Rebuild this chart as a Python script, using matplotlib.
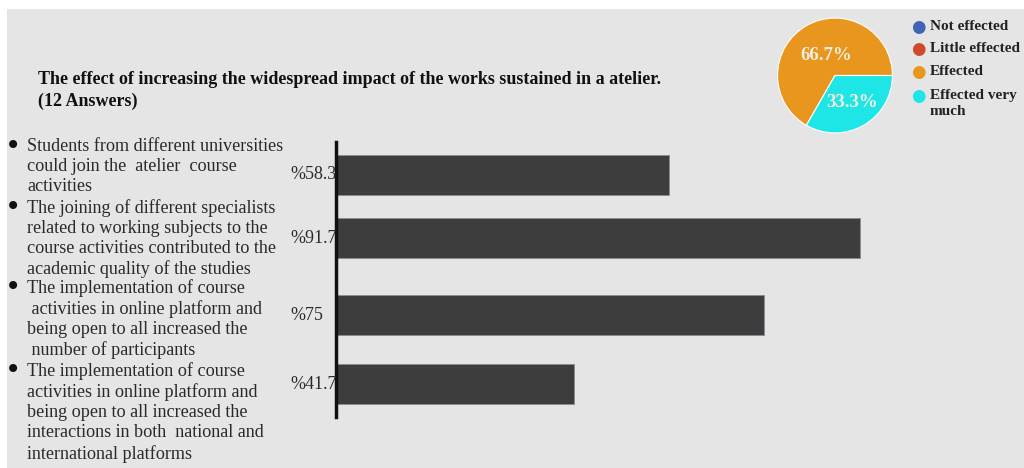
import matplotlib
matplotlib.use("Agg")
import matplotlib.pyplot as plt
from matplotlib.patches import Rectangle

# Survey data
items = [
    "Students from different universities\ncould join the  atelier  course\nactivities",
    "The joining of different specialists\nrelated to working subjects to the\ncourse activities contributed to the\nacademic quality of the studies",
    "The implementation of course\n activities in online platform and\nbeing open to all increased the\n number of participants",
    "The implementation of course\nactivities in online platform and\nbeing open to all increased the\ninteractions in both  national and\ninternational platforms",
]
percent = [58.3, 91.7, 75, 41.7]

pie_labels = ["Not effected", "Little effected", "Effected", "Effected very\nmuch"]
pie_values = [0, 0, 66.7, 33.3]
pie_colors = ["#3f63b5", "#d04a2a", "#e8961e", "#1ee6e6"]

title = "The effect of increasing the widespread impact of the works sustained in a atelier.\n(12 Answers)"

W, H = 1024, 468
bg = "#e5e5e5"
serif = ["Liberation Serif", "DejaVu Serif"]


def fx(px):
    return px / W


def fy(py):
    return 1 - py / H


fig = plt.figure(figsize=(W / 100, H / 100), dpi=100, facecolor="white")
fig.patches.append(Rectangle((fx(7), 0), 1 - fx(7), fy(9), transform=fig.transFigure,
                             facecolor=bg, edgecolor="none", zorder=-10))

# bar chart
ax = fig.add_axes([fx(336), fy(417), fx(907) - fx(336), fy(142) - fy(417)])
ax.set_facecolor("none")
ypos = [0, 0.91, 2.01, 3.0]
ax.barh(ypos, percent, height=0.57, color="#3d3d3d", edgecolor="#8a8a9a", linewidth=0.6)
ax.set_xlim(0, 100)
ax.set_ylim(3.47, -0.47)
for s in ["top", "right", "bottom"]:
    ax.spines[s].set_visible(False)
ax.spines["left"].set_linewidth(2.5)
ax.spines["left"].set_color("#111111")
ax.set_xticks([])
ax.set_yticks([])
for y, v in zip(ypos, percent):
    ax.annotate("%" + f"{v:g}", xy=(0, y), xytext=(-33, 0), textcoords="offset points",
                ha="left", va="center", fontsize=13, family=serif, color="#2a2a2a")

# item labels with bullets
label_tops = [146, 207, 287, 370]
for txt, yc in zip(items, label_tops):
    fig.text(fx(5), fy(yc), "\u2022", fontsize=20, ha="left", va="center", color="#111111")
    fig.text(fx(27), fy(yc - 8), txt, fontsize=13.1, family=serif, ha="left", va="top",
             linespacing=1.24, color="#2a2a2a")

# title
fig.text(fx(38), fy(71), title, fontsize=13.0, family=serif, fontweight="bold",
         ha="left", va="top", linespacing=1.36, color="#111111")

# pie chart
pax = fig.add_axes([fx(777), fy(134), fx(893) - fx(777), fy(17) - fy(134)])
wedges, _ = pax.pie(pie_values, colors=pie_colors, startangle=0, counterclock=True,
                    wedgeprops=dict(edgecolor="white", linewidth=0.8))
pax.set_xlim(-1.01, 1.01)
pax.set_ylim(-1.01, 1.01)
pax.set_aspect("equal")
pax.text(-0.15, 0.35, f"{pie_values[2]:.1f}%", ha="center", va="center", fontsize=13.5,
         family=serif, fontweight="bold", color="#f4eee0")
pax.text(0.3, -0.47, f"{pie_values[3]:.1f}%", ha="center", va="center", fontsize=13.5,
         family=serif, fontweight="bold", color="#f4eee0")

# legend
leg_y = [27, 49, 72, 96]
for lab, col, y in zip(pie_labels, pie_colors, leg_y):
    fig.text(fx(918), fy(y), "\u25cf", fontsize=12, ha="center", va="center", color=col)
    fig.text(fx(930), fy(y - 7), lab, fontsize=11, family=serif, fontweight="bold",
             ha="left", va="top", linespacing=1.3, color="#222222")

fig.savefig("out.png", dpi=100, facecolor="white")
